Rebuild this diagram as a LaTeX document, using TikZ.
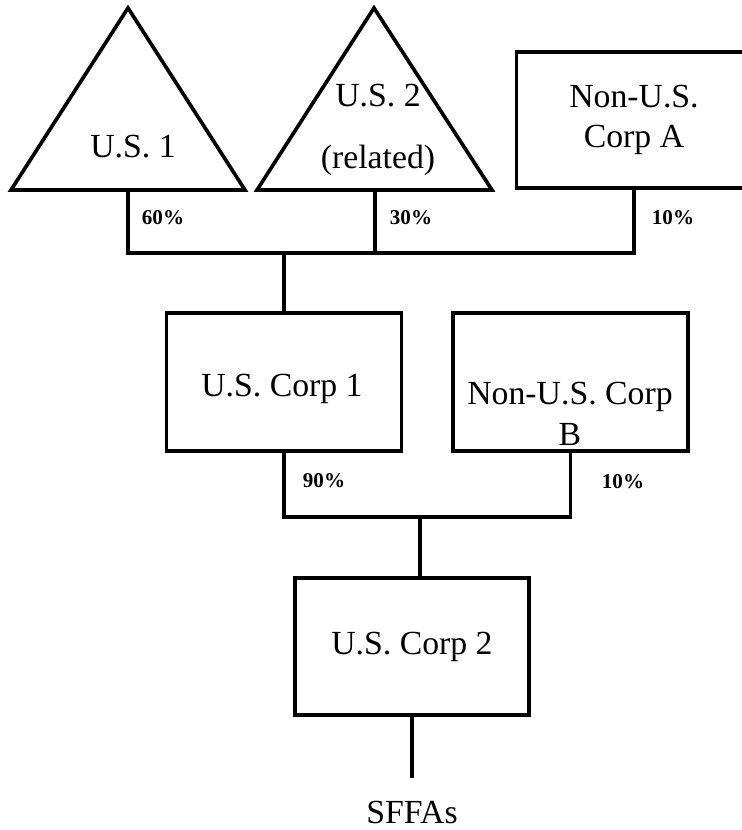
\documentclass[tikz,border=0pt]{standalone}
\usepackage{fontspec}
\setmainfont{Liberation Serif}
\usetikzlibrary{positioning, calc}

\begin{document}
\begin{tikzpicture}[
  x=0.025cm, y=-0.025cm,
  cbox/.style={draw, line width=2.6pt, minimum width=5.875cm, inner sep=0pt, align=center, font=\fontsize{24}{29}\selectfont},
  tri/.style={draw, line width=2.6pt, line join=miter},
  link/.style={line width=2.6pt},
  ename/.style={inner sep=0pt, align=center, font=\fontsize{24}{29}\selectfont},
  pct/.style={inner sep=0pt, font=\fontsize{15}{18}\selectfont\bfseries}
]
  \useasboundingbox (0,0) rectangle (742,830);

  % shareholders
  \draw[tri] (11,190) -- (128,8) -- (245,190) -- cycle;
  \draw[tri] (257,190) -- (374,8) -- (492,190) -- cycle;
  \coordinate (us1) at (128,190);
  \coordinate (us2) at (375,190);
  \node[ename] (us1name) at (133,147) {U.S. 1};
  \node[ename, font=\fontsize{24}{44}\selectfont] (us2name) at (378,130) {U.S. 2\\(related)};
  \node[cbox, minimum height=3.4cm] (corpa) at (634,120) {Non-U.S.\\Corp A};

  % middle tier
  \node[cbox, minimum height=3.45cm] (corp1) at (284,382) {};
  \node[ename] (corp1name) at (282,389) {U.S. Corp 1};
  \node[cbox, minimum height=3.45cm] (corpb) at (570.5,382) {};
  \node[ename] (corpbname) at (570,414) {Non-U.S. Corp\\B};

  % bottom
  \node[cbox, minimum width=5.85cm, minimum height=3.425cm] (corp2) at (412,646.5) {U.S. Corp 2};
  \node[ename] (sffa) at (412,812) {SFFAs};
  \coordinate (sffa top) at (412,778);

  % ownership lines
  \coordinate (top bar) at (284,253);
  \draw[link] (us1) -- (us1 |- top bar) -- (top bar -| corpa.south) -- (corpa.south);
  \draw[link] (us2) -- (us2 |- top bar);
  \draw[link] (top bar) -- (corp1.north);
  \coordinate (low bar) at (420,517);
  \draw[link] (corp1.south) -- (corp1.south |- low bar) -- (low bar -| corpb.south) -- (corpb.south);
  \draw[link] (low bar) -- (low bar |- corp2.north);
  \draw[link] (corp2.south) -- (sffa top);

  % percentages
  \node[pct] (p60) at (163,218) {60\%};
  \node[pct] (p30) at (411,218) {30\%};
  \node[pct] (p10a) at (673,218) {10\%};
  \node[pct] (p90) at (324,481) {90\%};
  \node[pct] (p10b) at (623,482) {10\%};
\end{tikzpicture}
\end{document}
